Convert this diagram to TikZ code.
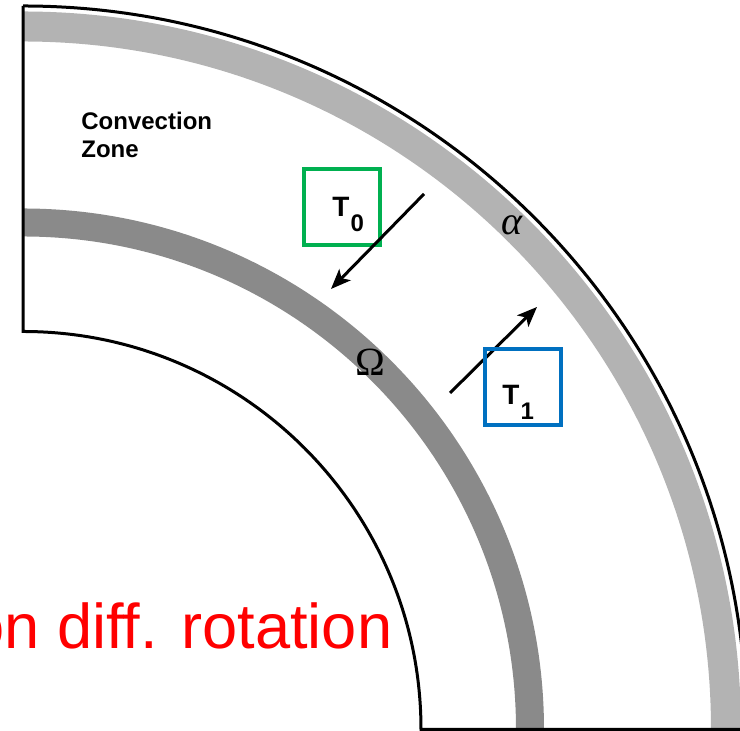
\documentclass[tikz,border=0pt]{standalone}
\usepackage{fontspec}
\setmainfont{Liberation Sans}[Ligatures=CommonOff]
\newfontfamily\greekserif{Liberation Serif}
\usetikzlibrary{arrows.meta,calc}
\definecolor{boxgreen}{RGB}{0,176,80}
\definecolor{boxblue}{RGB}{0,112,192}
\definecolor{shelllight}{RGB}{179,179,179}
\definecolor{shelldark}{RGB}{138,138,138}
\newcommand{\tsub}[1]{{\fontsize{14}{16}\selectfont T}\kern0.6pt\raisebox{-7.5pt}{\fontsize{12}{14}\selectfont #1}}

\begin{document}
\begin{tikzpicture}[
  x=0.5pt, y=0.5pt,
  every node/.style={inner sep=0pt},
  rim/.style={draw, line width=1.5pt, line join=miter},
  shell/.style={draw, line width=#1},
  tbox/.style={draw=#1, line width=2pt, minimum width=38pt, minimum height=38pt},
  tname/.style={font=\bfseries, anchor=base west},
  greek/.style={font=\greekserif\fontsize{20}{22}\selectfont},
  flux/.style={draw, line width=1.5pt, -{Stealth[length=10pt, width=8pt, inset=2.5pt]}}]

  \useasboundingbox (0,0) rectangle (740,731);
  \clip (0,0) rectangle (740,731);
  \coordinate (ctr) at (23,1.5);

  % shells
  \draw[shell=15pt, shelllight] ($(ctr)+(0,703)$) arc[start angle=90, end angle=0, radius=703];
  \draw[shell=14pt, shelldark]  ($(ctr)+(0,507)$) arc[start angle=90, end angle=0, radius=507];

  % outline
  \draw[rim] ($(ctr)+(0,723.5)$) arc[start angle=90, end angle=0, radius=723.5];
  \draw[rim] ($(ctr)+(0,723.5)$) -- ($(ctr)+(0,398)$)
    arc[start angle=90, end angle=0, radius=398] -- ($(ctr)+(760,0)$);

  % boxes
  \node[tbox=boxgreen] (tzero) at (342,524) {};
  \node[tname] (tzerotext) at (332,514) {\tsub{0}};

  % arrows
  \coordinate (tzerotail) at (424,537);
  \coordinate (tzerohead) at (331,442);
  \coordinate (tonetail)  at (450,338);
  \coordinate (tonehead)  at (537,424);
  \draw[flux] (tzerotail) -- (tzerohead);
  \draw[flux] (tonetail) -- (tonehead);

  \node[tbox=boxblue] (tone) at (523,343.5) {};
  \node[tname] (tonetext) at (502,326) {\tsub{1}};

  % labels printed inside the picture
  \node[anchor=north west, align=left, font=\bfseries\fontsize{12}{14}\selectfont]
    (convzone) at (81,619) {Convection\\Zone};
  \node[greek] (alpha) at (512,506) {\itshape α};
  \node[greek] (omega) at (370.5,369) {Ω};
  \node[anchor=base west, text=red, font=\fontsize{31.6}{38}\selectfont]
    (rotnote) at (-31,82) {on diff. rotation};
\end{tikzpicture}
\end{document}
